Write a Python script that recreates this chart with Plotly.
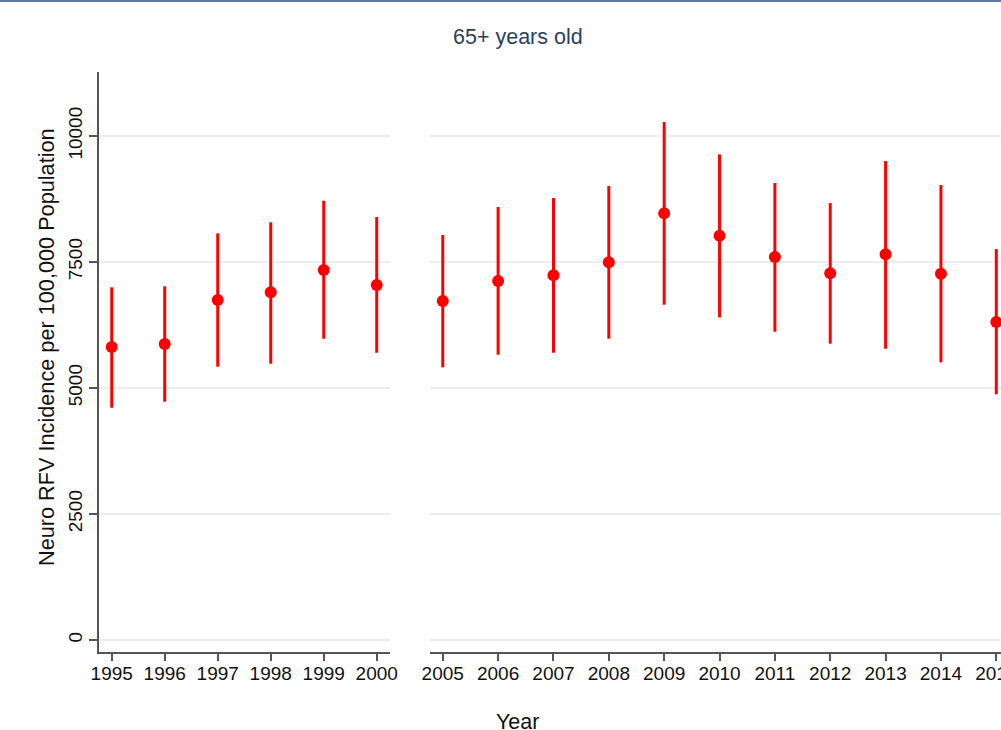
import plotly.graph_objects as go

# Data
years_early = [1995, 1996, 1997, 1998, 1999, 2000]
mean_early = [5813, 5873, 6746, 6898, 7341, 7043]
low_early = [4609, 4728, 5423, 5482, 5978, 5700]
high_early = [6998, 7017, 8069, 8288, 8716, 8393]

years_late = [2005, 2006, 2007, 2008, 2009, 2010, 2011, 2012, 2013, 2014, 2015]
mean_late = [6726, 7123, 7235, 7493, 8465, 8022, 7599, 7275, 7652, 7268, 6309]
low_late = [5410, 5660, 5700, 5978, 6653, 6402, 6117, 5879, 5780, 5509, 4875]
high_late = [8035, 8591, 8769, 9007, 10277, 9636, 9067, 8670, 9503, 9027, 7757]

y_ticks = [0, 2500, 5000, 7500, 10000]

title_text = "65+ years old"
x_title = "Year"
y_title = "Neuro RFV Incidence per 100,000 Population"

RED = "#ff0000"
FONT = "Liberation Sans, Arial, Helvetica, sans-serif"


def make_trace(xs, ms, lo, hi, xa, ya):
    return go.Scatter(
        x=xs, y=ms, mode="markers",
        marker=dict(color=RED, size=12),
        error_y=dict(type="data", symmetric=False,
                     array=[h - m for h, m in zip(hi, ms)],
                     arrayminus=[m - l for m, l in zip(ms, lo)],
                     color=RED, thickness=3, width=0),
        xaxis=xa, yaxis=ya, showlegend=False, cliponaxis=False,
        hoverinfo="skip",
    )


fig = go.Figure()
fig.add_trace(make_trace(years_early, mean_early, low_early, high_early, "x", "y"))
fig.add_trace(make_trace(years_late, mean_late, low_late, high_late, "x2", "y2"))

axis_col = "#555555"
grid_col = "#e9eff0"
tickfont = dict(family=FONT, size=19, color="#111111")

fig.update_layout(
    width=1001, height=730,
    margin=dict(l=99, r=0, t=72, b=78, autoexpand=False),
    paper_bgcolor="white", plot_bgcolor="white",
    font=dict(family=FONT),
    xaxis=dict(domain=[0, 0.3226], range=[1994.76, 2000.25],
               tickmode="array", tickvals=years_early,
               ticks="outside", ticklen=7, tickcolor=axis_col, tickwidth=1.5,
               showline=True, linecolor=axis_col, linewidth=1.5,
               showgrid=False, zeroline=False, tickfont=tickfont,
               ticklabeloverflow="allow", automargin=False,
               ticklabelstandoff=-4),
    yaxis=dict(range=[-238, 11270], tickvals=y_ticks, tickformat="d",
               ticks="outside", ticklen=8, tickcolor=axis_col, tickwidth=1.5,
               tickangle=-90, automargin=False,
               showline=True, linecolor=axis_col, linewidth=1.5,
               showgrid=True, gridcolor=grid_col, gridwidth=1.5,
               zeroline=False, tickfont=tickfont),
    xaxis2=dict(domain=[0.367, 1.0], range=[2004.77, 2015.085],
                tickmode="array", tickvals=years_late,
                ticks="outside", ticklen=7, tickcolor=axis_col, tickwidth=1.5,
                showline=True, linecolor=axis_col, linewidth=1.5,
                showgrid=False, zeroline=False, tickfont=tickfont, anchor="y2",
                ticklabeloverflow="allow", automargin=False,
                ticklabelstandoff=-4),
    yaxis2=dict(range=[-238, 11270], tickvals=y_ticks, anchor="x2",
                matches="y", showticklabels=False, showline=False,
                showgrid=True, gridcolor=grid_col, gridwidth=1.5,
                zeroline=False, automargin=False),
    annotations=[
        dict(text=title_text, xref="paper", yref="paper", x=0.4645, y=1.0603,
             xanchor="center", yanchor="middle", showarrow=False,
             font=dict(family=FONT, size=21.5, color="#2a3f5f")),
        dict(text=x_title, xref="paper", yref="paper", x=0.4645, y=-0.1207,
             xanchor="center", yanchor="middle", showarrow=False,
             font=dict(family=FONT, size=21.5, color="#111111")),
        dict(text=y_title, xref="paper", yref="paper", x=-0.0576, y=0.5259,
             xanchor="center", yanchor="middle", showarrow=False, textangle=-90,
             font=dict(family=FONT, size=21.7, color="#111111")),
    ],
    shapes=[dict(type="line", xref="paper", yref="paper", x0=-0.2, x1=1.2,
                 y0=1.1224, y1=1.1224, line=dict(color="#6278a0", width=2))],
)

fig.write_html("out.html", config={"displayModeBar": False},
               post_script="document.body.style.margin='0px';")
